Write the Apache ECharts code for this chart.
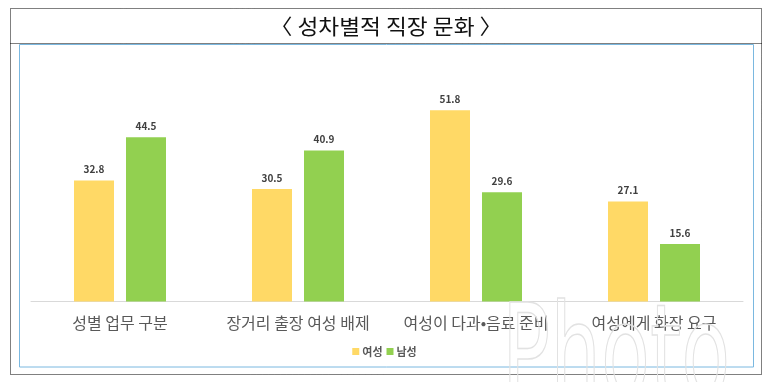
<!DOCTYPE html>
<html>
<head>
<meta charset="utf-8">
<script src="https://cdn.jsdelivr.net/npm/echarts@6/dist/echarts.min.js"></script>
<style>
html,body{margin:0;padding:0;background:#fff;}
#c{width:769px;height:382px;}
</style>
</head>
<body>
<div id="c"></div>
<script>
const titleText = '〈 성차별적 직장 문화 〉';
const categories = ['성별 업무 구분', '장거리 출장 여성 배제', '여성이 다과•음료 준비', '여성에게 화장 요구'];
const seriesNames = ['여성', '남성'];
const women = [32.8, 30.5, 51.8, 27.1];
const men = [44.5, 40.9, 29.6, 15.6];

const FONT = '"Noto Sans CJK KR", "Noto Sans", sans-serif';
const chart = echarts.init(document.getElementById('c'), null, {renderer: 'canvas'});
chart.setOption({
  animation: false,
  backgroundColor: '#fff',
  textStyle: {fontFamily: FONT},
  graphic: [
    {type: 'rect', shape: {x: 10.5, y: 8.5, width: 751, height: 366}, style: {fill: 'none', stroke: '#000', lineWidth: 1, lineDash: [1, 1]}, silent: true, z: 10},
    {type: 'line', shape: {x1: 10.5, y1: 43.5, x2: 761.5, y2: 43.5}, style: {stroke: '#000', lineWidth: 1, lineDash: [1, 1]}, silent: true, z: 10},
    {type: 'rect', shape: {x: 19.5, y: 44.5, width: 734, height: 322.5}, style: {fill: 'none', stroke: '#7ab8e0', lineWidth: 1}, silent: true, z: 10},
    {type: 'text', x: 386, y: 26, scaleX: 1.08, style: {text: titleText, font: '21px ' + FONT, fill: '#111', align: 'center', verticalAlign: 'middle'}, silent: true, z: 10},
    {type: 'text', x: 502, y: 298, scaleX: 0.8, scaleY: 1.3, style: {text: 'Photo', font: '100px "DejaVu Sans", sans-serif', fill: 'rgba(255,255,255,0)', stroke: '#e2e2e2', lineWidth: 1.2, align: 'left', verticalAlign: 'top'}, silent: true, z: 20}
  ],
  legend: {
    data: seriesNames,
    bottom: 20,
    left: 'center',
    itemWidth: 7,
    itemHeight: 7,
    itemGap: 4,
    icon: 'rect',
    textStyle: {fontSize: 11, color: '#595959', fontWeight: 'bold', fontFamily: FONT, padding: [0, 0, 0, -2]}
  },
  grid: {left: 31, right: 26, top: 80, bottom: 80.5, containLabel: false},
  xAxis: {
    type: 'category',
    data: categories,
    axisLine: {lineStyle: {color: '#d9d9d9', width: 1}},
    axisTick: {show: false},
    axisLabel: {fontSize: 16, color: '#595959', margin: 13, fontFamily: FONT, interval: 0}
  },
  yAxis: {
    type: 'value',
    min: 0,
    max: 60,
    show: false,
    splitLine: {show: false}
  },
  series: [
    {
      name: seriesNames[0], type: 'bar', data: women, barWidth: 40, barGap: '30%',
      itemStyle: {color: '#FFD966'},
      label: {show: true, position: 'top', distance: 6, fontSize: 10, fontWeight: 'bold', color: '#404040', fontFamily: FONT}
    },
    {
      name: seriesNames[1], type: 'bar', data: men, barWidth: 40,
      itemStyle: {color: '#92D050'},
      label: {show: true, position: 'top', distance: 6, fontSize: 10, fontWeight: 'bold', color: '#404040', fontFamily: FONT}
    }
  ]
});
</script>
</body>
</html>
